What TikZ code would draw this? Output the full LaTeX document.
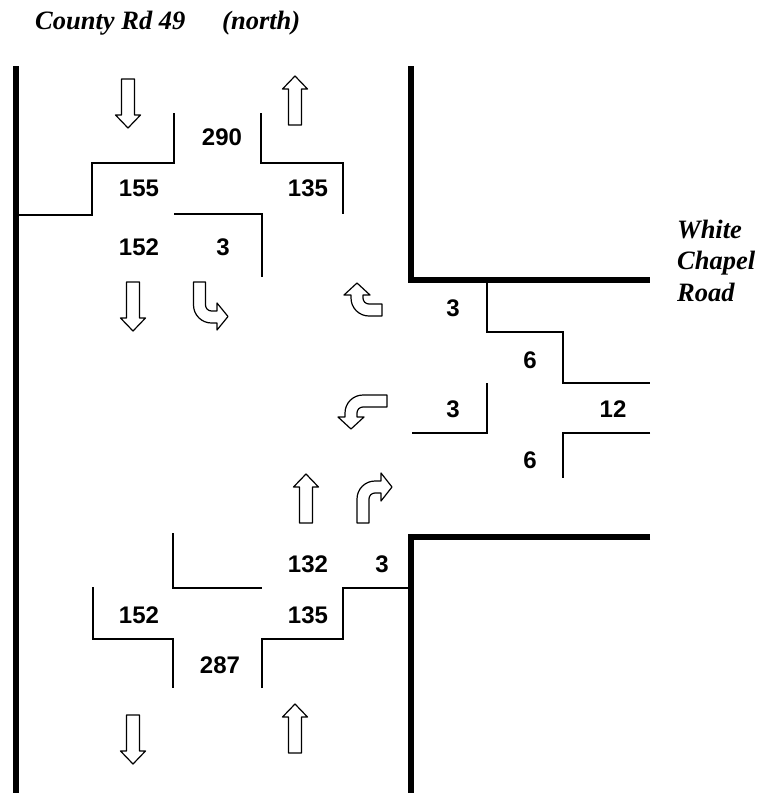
\documentclass[tikz,border=0pt]{standalone}
\usepackage{fontspec}
\setmainfont{Liberation Serif}
\newfontfamily\numfont{Liberation Sans}
\usepackage{tikz}
\usetikzlibrary{positioning}

\newcommand{\arrowdn}[2]{\draw[arrowblk] (#1-6.5,#2) -- (#1+6.5,#2) -- (#1+6.5,#2+36) -- (#1+12.5,#2+36) -- (#1,#2+49) -- (#1-12.5,#2+36) -- (#1-6.5,#2+36) -- cycle;}
\newcommand{\arrowupblk}[2]{\draw[arrowblk] (#1,#2) -- (#1+12.5,#2+13) -- (#1+6.5,#2+13) -- (#1+6.5,#2+49) -- (#1-6.5,#2+49) -- (#1-6.5,#2+13) -- (#1-12.5,#2+13) -- cycle;}

\begin{document}
\begin{tikzpicture}[x=1pt,y=-1pt,
  curb/.style={line width=5.5pt},
  lane/.style={line width=2.5pt},
  arrowblk/.style={draw,line width=1.2pt,fill=white,line join=round},
  count/.style={font=\numfont\bfseries\fontsize{24}{28}\selectfont,inner sep=0pt},
  street/.style={font=\bfseries\itshape\fontsize{26.5}{30}\selectfont,inner sep=0pt,anchor=base west}
]
\useasboundingbox (0,0) rectangle (759,793);
\node[street] (county) at (35,29) {County Rd 49};
\node[street] (north) at (222,29) {(north)};
\node[street] (white) at (677,238) {White};
\node[street] (chapel) at (677,269) {Chapel};
\node[street] (road) at (677,301) {Road};
\draw[curb] (16,66) -- (16,793);
\draw[curb] (411,66) -- (411,280) -- (650,280);
\draw[curb] (650,537) -- (411,537) -- (411,793);
\draw[lane] (16,215) -- (92,215) -- (92,163) -- (174,163) -- (174,113);
\draw[lane] (261,113) -- (261,163) -- (343,163) -- (343,214);
\draw[lane] (174,214) -- (262,214) -- (262,277);
\draw[lane] (487,280) -- (487,332) -- (563,332) -- (563,383) -- (650,383);
\draw[lane] (487,383) -- (487,433) -- (412,433);
\draw[lane] (650,433) -- (563,433) -- (563,478);
\draw[lane] (173,533) -- (173,588) -- (262,588);
\draw[lane] (93,587) -- (93,639) -- (173,639) -- (173,688);
\draw[lane] (262,688) -- (262,639) -- (343,639) -- (343,588) -- (411,588);
\node[count] (nIn) at (222,137) {290};
\node[count] (nLeft) at (139,188) {155};
\node[count] (nOut) at (308,188) {135};
\node[count] (nThru) at (139,247) {152};
\node[count] (nRight) at (223,247) {3};
\node[count] (eRight) at (453,308) {3};
\node[count] (eOut) at (530,360) {6};
\node[count] (eLeft) at (453,409) {3};
\node[count] (eIn) at (613,409) {12};
\node[count] (eOut2) at (530,460) {6};
\node[count] (sThru) at (308,564) {132};
\node[count] (sRight) at (382,564) {3};
\node[count] (sOut) at (139,615) {152};
\node[count] (sLeft) at (308,615) {135};
\node[count] (sIn) at (220,665) {287};
\arrowdn{128}{79}
\arrowupblk{295}{76}
\arrowdn{133}{282}
\arrowupblk{306}{474}
\arrowdn{133}{715}
\arrowupblk{295}{704}
\draw[arrowblk] (193.5,282) -- (193.5,305) arc[start angle=180,end angle=90,radius=18] -- (217,323) -- (217,330) -- (228,316.5) -- (217,303) -- (217,311) -- (211.5,311) arc[start angle=90,end angle=180,radius=6] -- (205.5,282) -- cycle;
\draw[arrowblk] (357,283) -- (370,295) -- (363,295) -- (363,298) arc[start angle=180,end angle=90,radius=6] -- (382,304) -- (382,316) -- (369,316) arc[start angle=90,end angle=180,radius=18] -- (351,295) -- (344,295) -- cycle;
\draw[arrowblk] (387,395) -- (363,395) arc[start angle=-90,end angle=-180,radius=18] -- (345,417) -- (338,417) -- (351,429) -- (364,417) -- (357,417) -- (357,413) arc[start angle=180,end angle=270,radius=6] -- (387,407) -- cycle;
\draw[arrowblk] (357,523) -- (357,499) arc[start angle=180,end angle=270,radius=18] -- (381,481) -- (381,473) -- (392,487) -- (381,501) -- (381,493) -- (375,493) arc[start angle=270,end angle=180,radius=6] -- (369,523) -- cycle;
\end{tikzpicture}
\end{document}
